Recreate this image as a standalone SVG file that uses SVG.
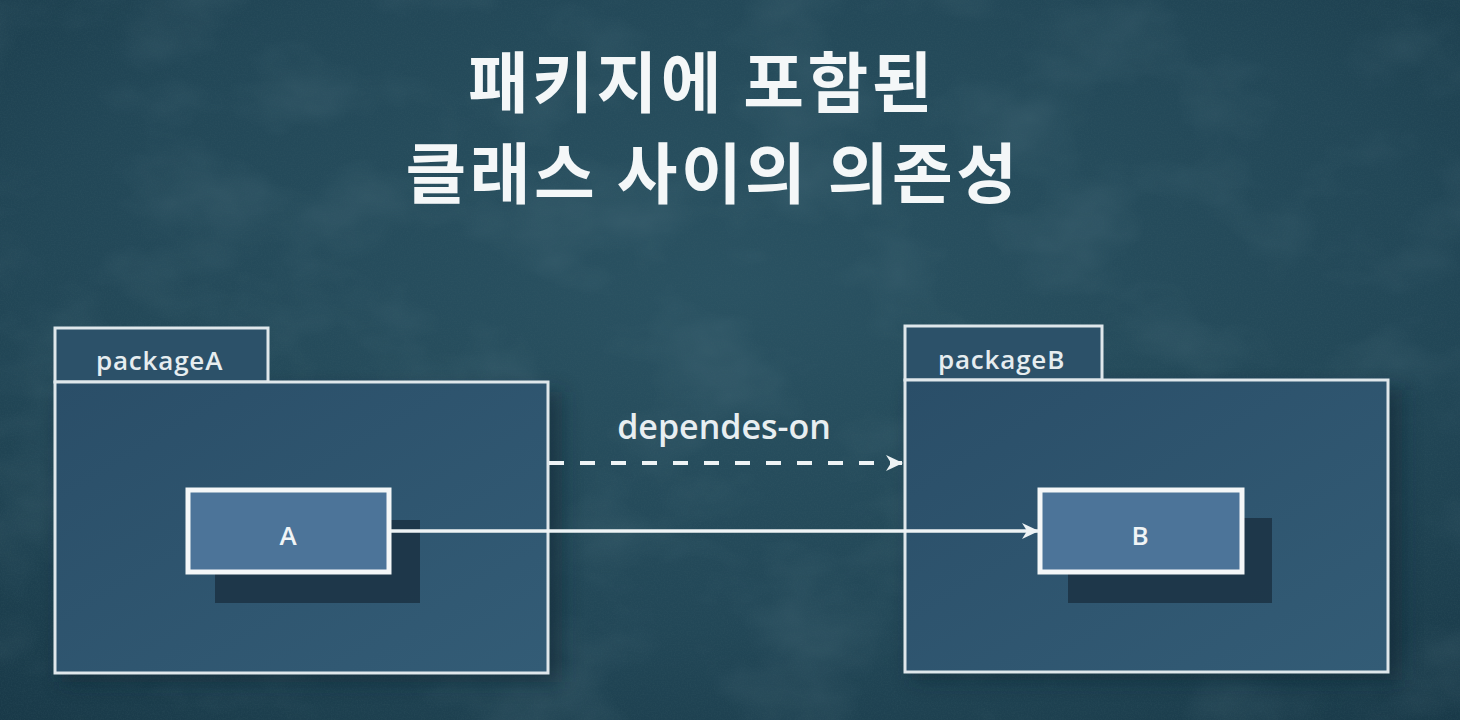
<svg xmlns="http://www.w3.org/2000/svg" width="1460" height="720" viewBox="0 0 1460 720">
  <defs>
    <radialGradient id="bg" cx="0.5" cy="0.4" r="0.8">
      <stop offset="0" stop-color="#2a5262"/>
      <stop offset="0.6" stop-color="#224757"/>
      <stop offset="1" stop-color="#183847"/>
    </radialGradient>
    <filter id="grain" x="0" y="0" width="100%" height="100%">
      <feTurbulence type="fractalNoise" baseFrequency="0.008 0.012" numOctaves="4" seed="11" result="n"/>
      <feColorMatrix in="n" type="matrix" values="0 0 0 0 0.45  0 0 0 0 0.62  0 0 0 0 0.68  0 0 0 0.8 -0.35"/>
    </filter>
    <filter id="speck" x="0" y="0" width="100%" height="100%">
      <feTurbulence type="fractalNoise" baseFrequency="0.7" numOctaves="2" seed="3" result="n"/>
      <feColorMatrix in="n" type="matrix" values="0 0 0 0 0.05  0 0 0 0 0.12  0 0 0 0 0.15  0 0 0 0.7 -0.25"/>
    </filter>
    <filter id="soft" x="-10%" y="-10%" width="120%" height="120%">
      <feGaussianBlur stdDeviation="10"/>
    </filter>
    <linearGradient id="pkg" x1="0" y1="0" x2="1" y2="1">
      <stop offset="0" stop-color="#2a4e68"/>
      <stop offset="1" stop-color="#335c76"/>
    </linearGradient>
    <marker id="arrow" viewBox="0 0 18 18" refX="17" refY="9" markerWidth="18" markerHeight="18" markerUnits="userSpaceOnUse" orient="auto">
      <path d="M1,1 L18,9 L1,17 L6,9 Z" fill="#eef3f5"/>
    </marker>
    <style>
      .title { font-family: "Noto Sans CJK KR", "Noto Sans", sans-serif; font-weight: 700; font-size: 66px; letter-spacing: 3.5px; fill: #f4f7f8; text-anchor: middle; }
      .pkgbody { fill: url(#pkg); stroke: #dfe7eb; stroke-width: 3; }
      .pkgtab { fill: #2c5169; stroke: #dfe7eb; stroke-width: 3; }
      .pkglabel { font-family: "Open Sans", "Noto Sans", sans-serif; font-weight: 600; font-size: 26px; letter-spacing: 0.8px; fill: #e6edf0; }
      .cls { fill: #4c7499; stroke: #f4f7f8; stroke-width: 5; }
      .clsshadow { fill: #1d3446; opacity: 0.9; }
      .clslabel { font-family: "Open Sans", "Noto Sans", sans-serif; font-weight: 600; font-size: 26px; fill: #f0f4f6; text-anchor: middle; }
      .edgelabel { font-family: "Open Sans", "Noto Sans", sans-serif; font-weight: 600; font-size: 34px; fill: #e8eef1; text-anchor: middle; }
      .conn { stroke: #eef3f5; stroke-width: 3.5; fill: none; }
      .dashed { stroke-width: 4; stroke-dasharray: 15 16; }
    </style>
  </defs>

  <rect x="0" y="0" width="1460" height="720" fill="url(#bg)"/>
  <rect x="0" y="0" width="1460" height="720" filter="url(#grain)" opacity="0.25"/>
  <rect x="0" y="0" width="1460" height="720" filter="url(#speck)" opacity="0.5"/>

  <g id="title">
    <text class="title" x="702" y="107">패키지에 포함된</text>
    <text class="title" x="713" y="198">클래스 사이의 의존성</text>
  </g>

  <g id="packageA">
    <rect x="62" y="392" width="500" height="290" fill="#10222e" opacity="0.5" filter="url(#soft)"/>
    <rect class="pkgtab" x="55" y="328" width="213" height="54"/>
    <rect class="pkgbody" x="55" y="382" width="493" height="291"/>
    <text class="pkglabel" x="96" y="370">packageA</text>
  </g>

  <g id="packageB">
    <rect x="912" y="390" width="490" height="290" fill="#10222e" opacity="0.5" filter="url(#soft)"/>
    <rect class="pkgtab" x="905" y="326" width="197" height="54"/>
    <rect class="pkgbody" x="905" y="380" width="483" height="292"/>
    <text class="pkglabel" x="938" y="369">packageB</text>
  </g>

  <g id="classA">
    <rect class="clsshadow" x="215" y="520" width="205" height="83"/>
    <rect class="cls" x="188" y="490" width="201" height="82"/>
    <text class="clslabel" x="288" y="545">A</text>
  </g>

  <g id="classB">
    <rect class="clsshadow" x="1068" y="518" width="204" height="85"/>
    <rect class="cls" x="1040" y="490" width="202" height="82"/>
    <text class="clslabel" x="1140" y="545">B</text>
  </g>

  <g id="connectors">
    <line class="conn dashed" x1="549" y1="463" x2="902" y2="463" marker-end="url(#arrow)"/>
    <text class="edgelabel" x="724" y="439">dependes-on</text>
    <line class="conn" x1="391" y1="531" x2="1038" y2="531" marker-end="url(#arrow)"/>
  </g>
</svg>
